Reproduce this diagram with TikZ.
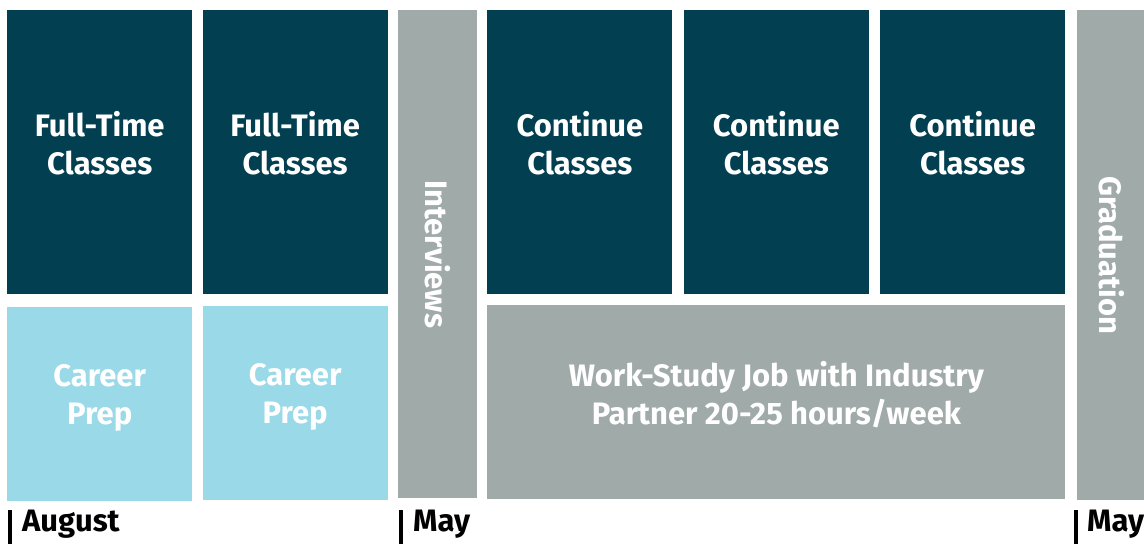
\documentclass[tikz,border=0pt]{standalone}
\usepackage{fontspec}
\usepackage{graphicx}
\setmainfont{Fira Sans}
\usetikzlibrary{positioning}
\definecolor{darkteal}{HTML}{023F51}
\definecolor{lightblue}{HTML}{9AD9E8}
\definecolor{slategray}{HTML}{A0AAA8}
\tikzset{
  block/.style={inner sep=0pt, align=center, text=white, font=\bfseries\fontsize{31}{38}\selectfont},
  lifted/.style={block, text depth=18pt},
  classes/.style={lifted, fill=darkteal, minimum width=185pt, minimum height=284pt},
  prep/.style={lifted, fill=lightblue, minimum width=185pt, minimum height=194pt},
  tall/.style={block, fill=slategray, minimum width=79pt, minimum height=488pt},
  monthtick/.style={line width=4pt},
  month/.style={font=\bfseries\fontsize{31}{34}\selectfont, anchor=base west, inner sep=0pt}
}

\begin{document}
\begin{tikzpicture}[x=1pt, y=-1pt, node distance=10pt]
  \useasboundingbox (0,0) rectangle (1144,544);
  % first year
  \node[classes, anchor=north west] (ft1) at (7,10) {Full-Time\\Classes};
  \node[classes, right=10pt of ft1.north east, anchor=north west] (ft2) {Full-Time\\Classes};
  \node[prep, below=12pt of ft1.south west, anchor=north west] (cp1) {Career\\Prep};
  \node[prep, below=11pt of ft2.south west, anchor=north west] (cp2) {Career\\Prep};
  \node[tall, right=10pt of ft2.north east, anchor=north west] (intv) {\rotatebox{-90}{Interviews}};
  % second year
  \node[classes, right=10pt of intv.north east, anchor=north west] (cc1) {Continue\\Classes};
  \node[classes, right=11pt of cc1.north east, anchor=north west] (cc2) {Continue\\Classes};
  \node[classes, right=11pt of cc2.north east, anchor=north west] (cc3) {Continue\\Classes};
  \node[lifted, fill=slategray, minimum width=578pt, minimum height=194pt,
        below=10pt of cc1.south west, anchor=north west] (ws) {Work-Study Job with Industry\\Partner 20-25 hours/week};
  \node[tall, minimum width=70pt, minimum height=490pt, right=11pt of cc3.north east, anchor=north west] (grad) {\rotatebox{-90}{Graduation}};
  % timeline
  \coordinate (t1) at (9.5,510);
  \coordinate (t2) at (400.5,510);
  \coordinate (t3) at (1075.5,510);
  \foreach \t in {t1,t2,t3}
    \draw[monthtick] (\t) -- ++(0,34);
  \node[month] (aug) at (22,531) {August};
  \node[month] (may1) at (413,531) {May};
  \node[month] (may2) at (1087,531) {May};
\end{tikzpicture}
\end{document}
